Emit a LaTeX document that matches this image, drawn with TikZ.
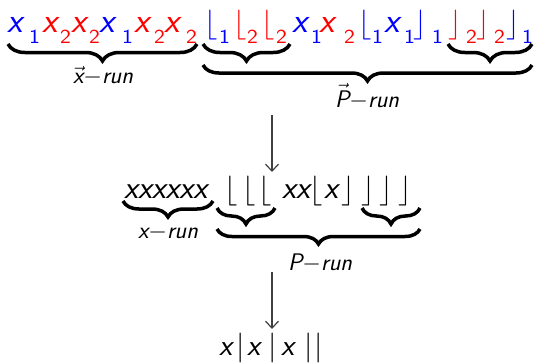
\documentclass[tikz,border=0pt]{standalone}
\usepackage{fix-cm}
\usetikzlibrary{arrows.meta,decorations.pathreplacing}
\newcommand\mainsz{\fontsize{30}{36}\selectfont}
\newcommand\bigsz{\fontsize{35}{40}\selectfont}
\newcommand\midsz{\fontsize{32}{36}\selectfont}
\newcommand\subsz{\fontsize{20}{24}\selectfont}
\newcommand\labsz{\fontsize{24}{28}\selectfont}
\newcommand\Lfl{$\lfloor$}
\newcommand\Rfl{$\rfloor$}
\newcommand\Vbar{$|$}
\newcommand\Xtop{{\bigsz x}}
\newcommand\Dig[1]{\scalebox{1.15}[1]{#1}}
\tikzset{
  glyph/.style={inner sep=0pt, font=\mainsz\sffamily\itshape},
  midglyph/.style={inner sep=0pt, font=\midsz\sffamily\itshape},
  subdigit/.style={inner sep=0pt, anchor=base west, font=\subsz\sffamily},
  runlabel/.style={inner sep=0pt, anchor=base, font=\labsz\sffamily\itshape},
  bracepath/.style={decorate, decoration={brace, mirror, amplitude=#1}, line width=3.5pt},
  bracepath/.default=16pt,
  arrowline/.style={draw=black!75, line width=1.2pt, -{Straight Barb[length=7pt,width=13pt]}},
}
\begin{document}
\begin{tikzpicture}[x=1pt,y=-1pt]
\useasboundingbox (0,0) rectangle (534,362);
% ---------- top row ----------
\foreach \gx/\an/\c/\g/\sx/\d [count=\i] in {
  7/base west/blue/\Xtop/29/1, 42/base west/red/\Xtop/60/2, 71/base west/red/\Xtop/89/2,
  99/base west/blue/\Xtop/122/1, 134/base west/red/\Xtop/154/2, 164/base west/red/\Xtop/186/2,
  204/base west/blue/\Lfl/219/1, 233/base west/red/\Lfl/247/2, 261/base west/red/\Lfl/276/2,
  292/base west/blue/\Xtop/311/1, 319/base west/red/\Xtop/344/2, 358/base west/blue/\Lfl/372/1,
  384/base west/blue/\Xtop/404/1, 427/base east/blue/\Rfl/432/1, 462/base east/red/\Rfl/466/2,
  490/base east/red/\Rfl/494/2, 520/base east/blue/\Rfl/522/1}{
  \node[glyph, anchor=\an, text=\c] (t\i) at (\gx,32) {\g};
  \node[subdigit, text=\c] (ts\i) at (\sx,43.5) {\Dig{\d}};
}
\coordinate (b1l) at (8,44);   \coordinate (b1r) at (197,44);
\coordinate (b2l) at (203,44); \coordinate (b2r) at (290,44);
\coordinate (b3l) at (448,44); \coordinate (b3r) at (532,44);
\coordinate (b4l) at (203,65); \coordinate (b4r) at (532,65);
\draw[bracepath=17pt] (b1l) -- (b1r);
\draw[bracepath=17pt] (b2l) -- (b2r);
\draw[bracepath=17pt] (b3l) -- (b3r);
\draw[bracepath=16pt] (b4l) -- (b4r);
\node[runlabel] (lx1) at (103,83) {$\vec{\hbox{x}}$$-$run};
\node[runlabel] (lp1) at (367,107) {$\vec{\hbox{P}}$$-$run};
% ---------- arrow 1 ----------
\coordinate (a1s) at (272,115); \coordinate (a1e) at (272,172);
\draw[arrowline] (a1s) -- (a1e);
% ---------- middle row ----------
\node[midglyph, anchor=base west] (m1) at (124,198) {xxxxxx};
\node[glyph, anchor=base west] (m2) at (224,198) {\Lfl};
\node[glyph, anchor=base west] (m3) at (242,198) {\Lfl};
\node[glyph, anchor=base west] (m4) at (258,198) {\Lfl};
\node[midglyph, anchor=base west] (m5) at (282,198) {xx};
\node[glyph, anchor=base west] (m6) at (309,198) {\Lfl};
\node[midglyph, anchor=base west] (m7) at (324,198) {x};
\node[glyph, anchor=base east] (m8) at (355,198) {\Rfl};
\node[glyph, anchor=base east] (m9) at (375,198) {\Rfl};
\node[glyph, anchor=base east] (m10) at (393,198) {\Rfl};
\node[glyph, anchor=base east] (m11) at (412,198) {\Rfl};
\coordinate (c1l) at (123,201); \coordinate (c1r) at (213,201);
\coordinate (c2l) at (217,208); \coordinate (c2r) at (275,208);
\coordinate (c3l) at (362,208); \coordinate (c3r) at (420,208);
\coordinate (c4l) at (217,229); \coordinate (c4r) at (420,229);
\draw[bracepath=16pt] (c1l) -- (c1r);
\draw[bracepath=16pt] (c2l) -- (c2r);
\draw[bracepath=16pt] (c3l) -- (c3r);
\draw[bracepath=15pt] (c4l) -- (c4r);
\node[runlabel] (lx2) at (168,238) {x$-$run};
\node[runlabel] (lp2) at (320,270) {P$-$run};
% ---------- arrow 2 ----------
\coordinate (a2s) at (272,272); \coordinate (a2e) at (272,329);
\draw[arrowline] (a2s) -- (a2e);
% ---------- bottom row ----------
\node[glyph, anchor=base west] (r1) at (219,355) {x};
\node[glyph, anchor=base] (r2) at (240.5,355) {\Vbar};
\node[glyph, anchor=base west] (r3) at (247,355) {x};
\node[glyph, anchor=base] (r4) at (272.5,355) {\Vbar};
\node[glyph, anchor=base west] (r5) at (281,355) {x};
\node[glyph, anchor=base] (r6) at (308.5,355) {\Vbar};
\node[glyph, anchor=base] (r7) at (318.5,355) {\Vbar};
\end{tikzpicture}
\end{document}
